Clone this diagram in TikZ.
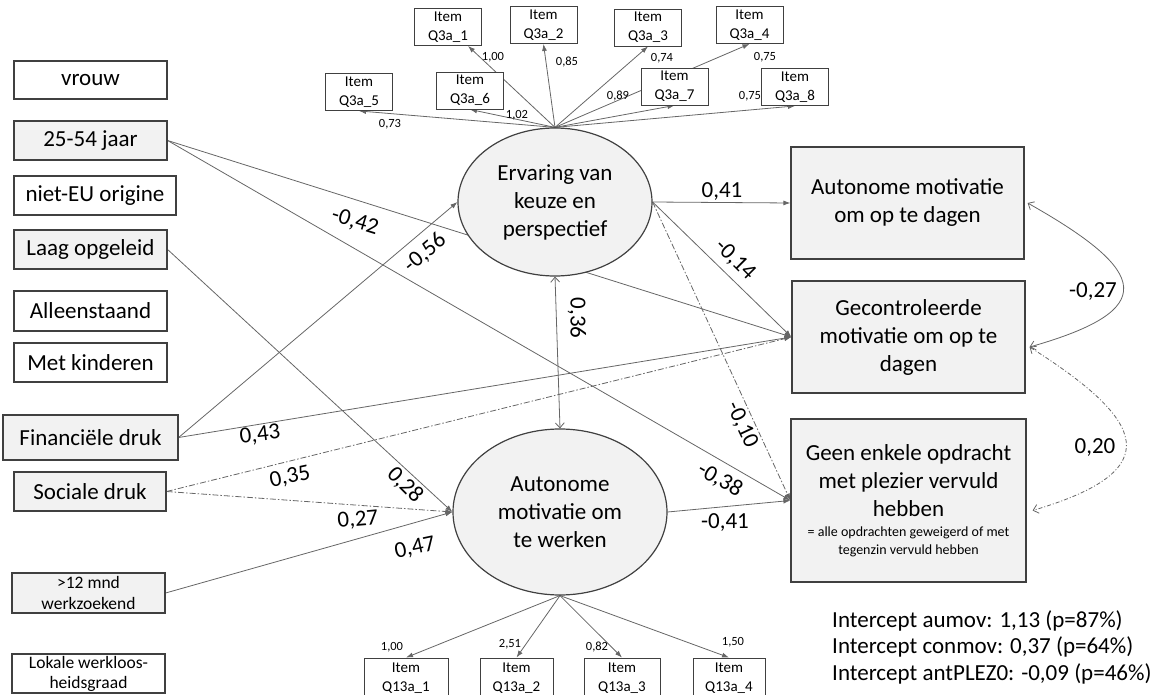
\documentclass[tikz,border=0pt]{standalone}
\usepackage{fontspec}
\setmainfont{Carlito}
\usetikzlibrary{arrows.meta,shapes.geometric,backgrounds,calc}
\definecolor{boxgray}{HTML}{F2F2F2}
\definecolor{edgeline}{HTML}{404040}
\definecolor{linkgray}{HTML}{666666}

\tikzset{
  big/.style={font=\fontsize{23}{28}\selectfont},
  mid/.style={font=\fontsize{17.5}{21}\selectfont},
  obs/.style={draw=edgeline, line width=1.2pt, rectangle, inner sep=0pt, align=center, big},
  obsw/.style={obs, fill=white},
  obsg/.style={obs, fill=boxgray},
  latent/.style={ellipse, draw=edgeline, line width=1.2pt, fill=boxgray, inner sep=0pt, align=center, big},
  item/.style={draw=edgeline, line width=0.9pt, fill=white, minimum width=67pt, minimum height=37pt,
    inner sep=0pt, align=center, font=\fontsize{15}{19}\selectfont},
  link/.style={draw=linkgray, line width=0.8pt, -{Latex[length=7pt,width=5pt]}},
  dlink/.style={link, dash pattern=on 6pt off 2pt on 1.5pt off 2pt},
  cov/.style={draw=linkgray, line width=0.8pt,
    {Straight Barb[length=5pt,width=9pt]}-{Straight Barb[length=5pt,width=9pt]}},
  coef/.style={big, inner sep=0pt},
  load/.style={font=\fontsize{12.5}{14}\selectfont, inner sep=0pt},
  note/.style={font=\fontsize{14}{18}\selectfont},
}

\begin{document}
\begin{tikzpicture}[x=1pt,y=-1pt]
\useasboundingbox (0,0) rectangle (1163,695);
\clip (0,0) rectangle (1163,695);

% covariates
\node[obsw, minimum width=153pt, minimum height=38pt] (vrouw) at (90.5,80) {vrouw};
\node[obsg, minimum width=153pt, minimum height=39pt] (age) at (90.5,140.5) {25-54 jaar};
\node[obsw, minimum width=162pt, minimum height=39pt] (nieteu) at (95,195.5) {niet-EU origine};
\node[obsg, minimum width=153pt, minimum height=39pt] (laag) at (90.5,249.5) {Laag opgeleid};
\node[obsw, minimum width=153pt, minimum height=40pt] (alleen) at (90.5,311) {Alleenstaand};
\node[obsw, minimum width=153pt, minimum height=39pt] (kind) at (90.5,362.5) {Met kinderen};
\node[obsg, minimum width=175pt, minimum height=45pt] (fin) at (90.5,437.5) {Financiële druk};
\node[obsg, minimum width=152pt, minimum height=39pt] (soc) at (90,491.5) {Sociale druk};
\node[obsg, mid, minimum width=153pt, minimum height=40pt] (werkz) at (88.5,593) {>12 mnd\\werkzoekend};
\node[obsw, mid, font=\fontsize{17.5}{20}\selectfont, minimum width=153pt, minimum height=39pt] (lokaal) at (88.5,673.5) {Lokale werkloos-\\heidsgraad};

% latent variables
\node[latent, minimum width=194pt, minimum height=148pt] (erv) at (555,202) {Ervaring van\\keuze en\\perspectief};
\node[latent, minimum width=214pt, minimum height=166pt] (amw) at (560,512) {Autonome\\motivatie om\\te werken};

% outcomes
\node[obsg, minimum width=233pt, minimum height=112pt] (adag) at (907.5,203) {Autonome motivatie\\om op te dagen};
\node[obsg, minimum width=233pt, minimum height=112pt] (cdag) at (908.5,337) {Gecontroleerde\\motivatie om op te\\dagen};
\node[obsg, minimum width=235pt, minimum height=163pt] (geen) at (908.5,500.5)
  {Geen enkele opdracht\\met plezier vervuld\\hebben\\[-8pt]{\fontsize{14}{18}\selectfont = alle opdrachten geweigerd of met}\\[-10pt]{\fontsize{14}{18}\selectfont tegenzin vervuld hebben}};

% indicators of the first latent
\node[item] (q1) at (448,27) {Item\\Q3a\_1};
\node[item] (q2) at (543.5,25) {Item\\Q3a\_2};
\node[item] (q3) at (648,27.5) {Item\\Q3a\_3};
\node[item] (q4) at (749.5,25) {Item\\Q3a\_4};
\node[item] (q5) at (359,92) {Item\\Q3a\_5};
\node[item] (q6) at (470,90.5) {Item\\Q3a\_6};
\node[item] (q7) at (674.5,86.5) {Item\\Q3a\_7};
\node[item] (q8) at (795,87) {Item\\Q3a\_8};

% indicators of the second latent
\node[item, minimum width=84pt, minimum height=40pt] (r1) at (406,678) {Item\\Q13a\_1};
\node[item, minimum width=73pt, minimum height=40pt] (r2) at (516.5,678) {Item\\Q13a\_2};
\node[item, minimum width=76pt, minimum height=40pt] (r3) at (622,678) {Item\\Q13a\_3};
\node[item, minimum width=72pt, minimum height=40pt] (r4) at (729,678) {Item\\Q13a\_4};

\begin{pgfonlayer}{background}
  % loadings
  \draw[link] (erv.north) -- ($(q1.south)+(20,0)$);
  \draw[link] (erv.north) -- (q2.south);
  \draw[link] (erv.north) -- (q3.south);
  \draw[link] (erv.north) -- (q4.south);
  \draw[link] (erv.north) -- (q5.south);
  \draw[link] (erv.north) -- (q6.south);
  \draw[link] (erv.north) -- (q7.south);
  \draw[link] (erv.north) -- (q8.south);
  \draw[link] (amw.south) -- (r1.north);
  \draw[link] (amw.south) -- (r2.north);
  \draw[link] (amw.south) -- (r3.north);
  \draw[link] (amw.south) -- (r4.north);
  % structural paths
  \draw[link] (age.east) -- (cdag.west);
  \draw[link] (age.east) -- (geen.west);
  \draw[link] (laag.east) -- (amw.west);
  \draw[link] (fin.east) -- (erv.west);
  \draw[link] (fin.east) -- (cdag.west);
  \draw[dlink] (soc.east) -- (cdag.west);
  \draw[dlink] (soc.east) -- (amw.west);
  \draw[link] (werkz.east) -- (amw.west);
  \draw[link] (erv.east) -- (adag.west);
  \draw[link] (erv.east) -- (cdag.west);
  \draw[dlink] (erv.east) -- (geen.west);
  \draw[link] (amw.east) -- (geen.west);
  % covariances
  \draw[cov] (erv.south) -- (amw.north);
  \coordinate (cdagr) at ($(cdag.east)+(4,10)$);
  \coordinate (geenr) at ($(geen.east)+(6,10)$);
  \draw[cov] ($(adag.east)+(3,0)$) .. controls (1150,272) and (1160,310) .. (cdagr);
  \draw[cov, dash pattern=on 4pt off 2pt on 1pt off 2pt] (cdagr) .. controls (1145,420) and (1170,470) .. (geenr);
\end{pgfonlayer}

% loading coefficients
\node[load] (l5) at (390,124) {0,73};
\node[load] (l6) at (517,115) {1,02};
\node[load] (l1) at (493,57) {1,00};
\node[load] (l2) at (567,62) {0,85};
\node[load] (l3) at (662,58) {0,74};
\node[load] (l4) at (765,57) {0,75};
\node[load] (l7) at (618,96) {0,89};
\node[load] (l8) at (750,96) {0,75};
\node[load] (m1) at (392,647) {1,00};
\node[load] (m2) at (510,644) {2,51};
\node[load] (m3) at (597,647) {0,82};
\node[load] (m4) at (733,642) {1,50};

% path coefficients
\node[coef, rotate=-17] (c1) at (355,222) {-0,42};
\node[coef, rotate=40] (c2) at (425,253) {-0,56};
\node[coef, rotate=7] (c3) at (260,435) {0,43};
\node[coef, rotate=12] (c4) at (290,477) {0,35};
\node[coef, rotate=-45] (c5) at (405,485) {0,28};
\node[coef, rotate=5] (c6) at (358,520) {0,27};
\node[coef, rotate=12] (c7) at (415,548) {0,47};
\node[coef] (c8) at (722,192) {0,41};
\node[coef, rotate=-45] (c9) at (735,260) {-0,14};
\node[coef, rotate=-90] (c10) at (577,318) {0,36};
\node[coef, rotate=-65] (c11) at (742,425) {-0,10};
\node[coef, rotate=-30] (c12) at (720,480) {-0,38};
\node[coef] (c13) at (725,523) {-0,41};
\node[coef] (c14) at (1093,292) {-0,27};
\node[coef] (c15) at (1095,448) {0,20};

% intercepts
\node[big, font=\fontsize{23}{26.5}\selectfont, align=left, anchor=west, inner sep=0pt] (icpt) at (832,647)
  {Intercept aumov: 1,13 (p=87\%)\\Intercept conmov: 0,37 (p=64\%)\\Intercept antPLEZ0: -0,09 (p=46\%)};
\end{tikzpicture}
\end{document}
